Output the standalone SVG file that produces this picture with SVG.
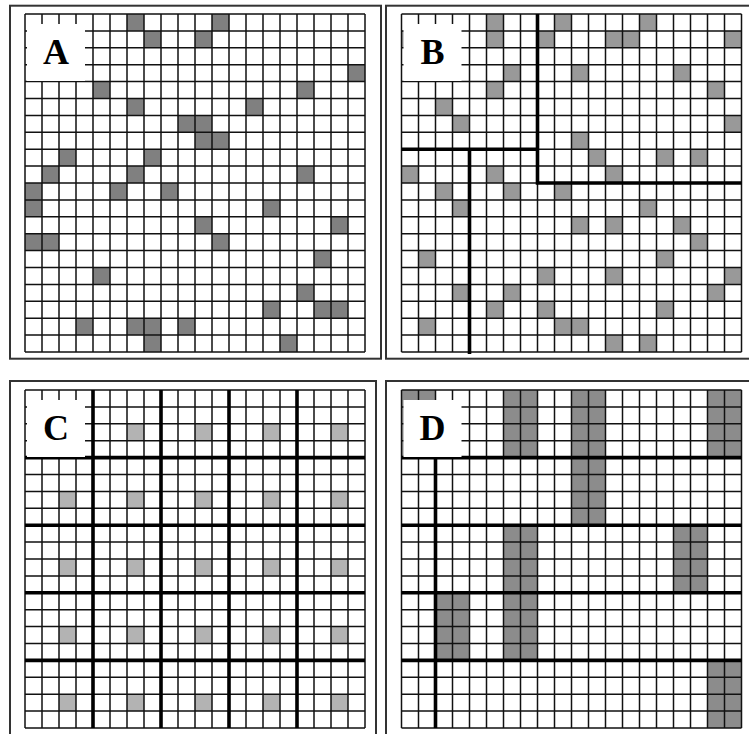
<svg xmlns="http://www.w3.org/2000/svg" xmlns:xlink="http://www.w3.org/1999/xlink" width="749" height="734" viewBox="0 0 749 734">
<style>
.frame{fill:none;stroke:#333;stroke-width:2}
.grid{fill:none;stroke:#111;stroke-width:1.5}
.thick{fill:none;stroke:#000;stroke-width:3.6}
.fa{fill:#808080}
.fb{fill:#999}
.fc{fill:#b3b3b3}
.fd{fill:#8c8c8c}
.lbox{fill:#fff}
.lbl{font-family:"Liberation Serif","Times New Roman",serif;font-weight:bold;font-size:36px;text-anchor:middle;fill:#000}
</style>
<defs>
<path id="grid" class="grid" d="M0,0V338M17,0V338M34,0V338M51,0V338M68,0V338M85,0V338M102,0V338M119,0V338M136,0V338M153,0V338M170,0V338M187,0V338M204,0V338M221,0V338M238,0V338M255,0V338M272,0V338M289,0V338M306,0V338M323,0V338M340,0V338M0,0H340M0,16.9H340M0,33.8H340M0,50.7H340M0,67.6H340M0,84.5H340M0,101.4H340M0,118.3H340M0,135.2H340M0,152.1H340M0,169H340M0,185.9H340M0,202.8H340M0,219.7H340M0,236.6H340M0,253.5H340M0,270.4H340M0,287.3H340M0,304.2H340M0,321.1H340M0,338H340"/>
<rect id="c" width="17" height="16.9"/>
<rect id="c2" width="34" height="67.6"/>
</defs>

<g id="panelA">
<rect class="frame" x="10" y="5.7" width="371" height="353"/>
<g transform="translate(25,14)">
<g class="fa">
<use href="#c" x="102" y="0"/><use href="#c" x="187" y="0"/>
<use href="#c" x="119" y="16.9"/><use href="#c" x="170" y="16.9"/>
<use href="#c" x="323" y="50.7"/>
<use href="#c" x="68" y="67.6"/><use href="#c" x="272" y="67.6"/>
<use href="#c" x="102" y="84.5"/><use href="#c" x="221" y="84.5"/>
<use href="#c" x="153" y="101.4"/><use href="#c" x="170" y="101.4"/>
<use href="#c" x="170" y="118.3"/><use href="#c" x="187" y="118.3"/>
<use href="#c" x="34" y="135.2"/><use href="#c" x="119" y="135.2"/>
<use href="#c" x="17" y="152.1"/><use href="#c" x="102" y="152.1"/><use href="#c" x="272" y="152.1"/>
<use href="#c" x="0" y="169"/><use href="#c" x="85" y="169"/><use href="#c" x="136" y="169"/>
<use href="#c" x="0" y="185.9"/><use href="#c" x="238" y="185.9"/>
<use href="#c" x="170" y="202.8"/><use href="#c" x="306" y="202.8"/>
<use href="#c" x="0" y="219.7"/><use href="#c" x="17" y="219.7"/><use href="#c" x="187" y="219.7"/>
<use href="#c" x="289" y="236.6"/>
<use href="#c" x="68" y="253.5"/>
<use href="#c" x="272" y="270.4"/>
<use href="#c" x="238" y="287.3"/><use href="#c" x="289" y="287.3"/><use href="#c" x="306" y="287.3"/>
<use href="#c" x="51" y="304.2"/><use href="#c" x="102" y="304.2"/><use href="#c" x="119" y="304.2"/><use href="#c" x="153" y="304.2"/>
<use href="#c" x="119" y="321.1"/><use href="#c" x="255" y="321.1"/>
</g>
<use href="#grid"/>
<rect class="lbox" x="2" y="10" width="58" height="57"/>
<text class="lbl" x="31" y="50">A</text>
</g>
</g>

<g id="panelB">
<rect class="frame" x="386" y="5.7" width="370" height="353"/>
<g transform="translate(401.5,14)">
<g class="fb">
<use href="#c" x="85" y="0"/><use href="#c" x="153" y="0"/><use href="#c" x="238" y="0"/>
<use href="#c" x="0" y="16.9"/><use href="#c" x="85" y="16.9"/><use href="#c" x="136" y="16.9"/><use href="#c" x="204" y="16.9"/><use href="#c" x="221" y="16.9"/><use href="#c" x="323" y="16.9"/>
<use href="#c" x="102" y="50.7"/><use href="#c" x="170" y="50.7"/><use href="#c" x="272" y="50.7"/>
<use href="#c" x="85" y="67.6"/><use href="#c" x="306" y="67.6"/>
<use href="#c" x="34" y="84.5"/>
<use href="#c" x="51" y="101.4"/><use href="#c" x="323" y="101.4"/>
<use href="#c" x="170" y="118.3"/>
<use href="#c" x="187" y="135.2"/><use href="#c" x="255" y="135.2"/><use href="#c" x="289" y="135.2"/>
<use href="#c" x="0" y="152.1"/><use href="#c" x="85" y="152.1"/><use href="#c" x="204" y="152.1"/>
<use href="#c" x="34" y="169"/><use href="#c" x="102" y="169"/><use href="#c" x="153" y="169"/>
<use href="#c" x="51" y="185.9"/><use href="#c" x="238" y="185.9"/>
<use href="#c" x="170" y="202.8"/><use href="#c" x="204" y="202.8"/><use href="#c" x="272" y="202.8"/>
<use href="#c" x="289" y="219.7"/>
<use href="#c" x="17" y="236.6"/><use href="#c" x="255" y="236.6"/>
<use href="#c" x="136" y="253.5"/><use href="#c" x="204" y="253.5"/><use href="#c" x="323" y="253.5"/>
<use href="#c" x="51" y="270.4"/><use href="#c" x="102" y="270.4"/><use href="#c" x="306" y="270.4"/>
<use href="#c" x="85" y="287.3"/><use href="#c" x="136" y="287.3"/><use href="#c" x="255" y="287.3"/>
<use href="#c" x="17" y="304.2"/><use href="#c" x="153" y="304.2"/><use href="#c" x="170" y="304.2"/>
<use href="#c" x="204" y="321.1"/><use href="#c" x="238" y="321.1"/>
</g>
<use href="#grid"/>
<path class="thick" d="M136,0V169H340M0,135.2H136M68,135.2V340"/>
<rect class="lbox" x="2" y="10" width="58" height="57"/>
<text class="lbl" x="31" y="50">B</text>
</g>
</g>

<g id="panelC">
<rect class="frame" x="10" y="381" width="366" height="360"/>
<g transform="translate(25,390)">
<g class="fc">
<use href="#c" x="34" y="33.8"/><use href="#c" x="102" y="33.8"/><use href="#c" x="170" y="33.8"/><use href="#c" x="238" y="33.8"/><use href="#c" x="306" y="33.8"/>
<use href="#c" x="34" y="101.4"/><use href="#c" x="102" y="101.4"/><use href="#c" x="170" y="101.4"/><use href="#c" x="238" y="101.4"/><use href="#c" x="306" y="101.4"/>
<use href="#c" x="34" y="169"/><use href="#c" x="102" y="169"/><use href="#c" x="170" y="169"/><use href="#c" x="238" y="169"/><use href="#c" x="306" y="169"/>
<use href="#c" x="34" y="236.6"/><use href="#c" x="102" y="236.6"/><use href="#c" x="170" y="236.6"/><use href="#c" x="238" y="236.6"/><use href="#c" x="306" y="236.6"/>
<use href="#c" x="34" y="304.2"/><use href="#c" x="102" y="304.2"/><use href="#c" x="170" y="304.2"/><use href="#c" x="238" y="304.2"/><use href="#c" x="306" y="304.2"/>
</g>
<use href="#grid"/>
<path class="thick" d="M68,0V338M136,0V338M204,0V338M272,0V338M0,67.6H340M0,135.2H340M0,202.8H340M0,270.4H340"/>
<rect class="lbox" x="2" y="10" width="58" height="57"/>
<text class="lbl" x="31" y="50">C</text>
</g>
</g>

<g id="panelD">
<rect class="frame" x="386" y="381" width="370" height="360"/>
<g transform="translate(401.5,390)">
<g class="fd">
<use href="#c2" x="0" y="0"/><use href="#c2" x="102" y="0"/><use href="#c2" x="170" y="0"/><use href="#c2" x="306" y="0"/>
<use href="#c2" x="170" y="67.6"/>
<use href="#c2" x="102" y="135.2"/><use href="#c2" x="272" y="135.2"/>
<use href="#c2" x="34" y="202.8"/><use href="#c2" x="102" y="202.8"/>
<use href="#c2" x="306" y="270.4"/>
</g>
<use href="#grid"/>
<path class="thick" d="M0,67.6H340M0,135.2H340M0,202.8H340M0,270.4H340M34,67.6V338"/>
<rect class="lbox" x="2" y="10" width="58" height="57"/>
<text class="lbl" x="31" y="50">D</text>
</g>
</g>
</svg>
